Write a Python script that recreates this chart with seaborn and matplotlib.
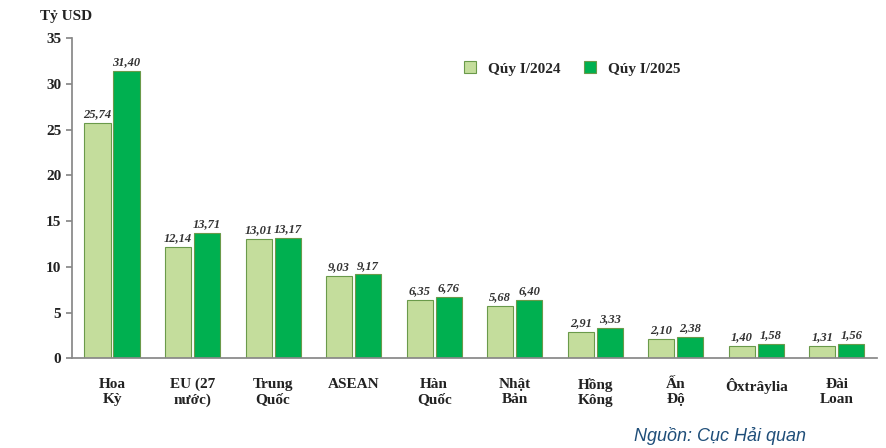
import matplotlib
matplotlib.use("Agg")
import matplotlib.pyplot as plt
import seaborn as sns
import pandas as pd

categories = ["Hoa\nKỳ", "EU (27\nnước)", "Trung\nQuốc", "ASEAN", "Hàn\nQuốc",
              "Nhật\nBản", "Hồng\nKông", "Ấn\nĐộ", "Ôxtrâylia", "Đài\nLoan"]
q2024 = [25.74, 12.14, 13.01, 9.03, 6.35, 5.68, 2.91, 2.10, 1.40, 1.31]
q2025 = [31.40, 13.71, 13.17, 9.17, 6.76, 6.40, 3.33, 2.38, 1.58, 1.56]
series = ["Qúy I/2024", "Qúy I/2025"]

df = pd.DataFrame({
    "cat": categories * 2,
    "val": q2024 + q2025,
    "ser": [series[0]] * len(categories) + [series[1]] * len(categories),
})

sns.set_theme(style="white")
plt.rcParams['font.family'] = ['Liberation Serif', 'DejaVu Serif']

fig = plt.figure(figsize=(8.86, 4.48), dpi=100)
ax = fig.add_axes([0.081, 0.2, 0.909, 0.715])
palette = {series[0]: "#c4dd9c", series[1]: "#00b050"}
sns.barplot(data=df, x="cat", y="val", hue="ser", palette=palette, ax=ax,
            width=0.72, gap=0.1, edgecolor="#6a9a4a", linewidth=0.8, saturation=1)

for cont in ax.containers:
    ax.bar_label(cont, labels=[f"{v:.2f}".replace(".", ",") for v in cont.datavalues],
                 padding=2, fontsize=9, fontweight="bold", style="italic", color="#333333")

ax.set_ylim(0, 35)
ax.set_yticks(range(0, 36, 5))
ax.set_xlim(-0.5, len(categories) - 0.5)
ax.set_xlabel("")
ax.set_ylabel("")
for lab in ax.get_yticklabels() + ax.get_xticklabels():
    lab.set_fontweight("bold")
    lab.set_fontsize(11)
    lab.set_color("#222222")
ax.tick_params(axis="y", left=True, length=4, color="#888888")
ax.tick_params(axis="x", bottom=False, pad=8)
for s in ["top", "right"]:
    ax.spines[s].set_visible(False)
for s in ["left", "bottom"]:
    ax.spines[s].set_color("#888888")

leg = ax.legend(loc="upper left", bbox_to_anchor=(0.47, 0.97), ncol=2, frameon=False,
                prop={"weight": "bold", "size": 11}, handlelength=0.8, handleheight=0.8,
                columnspacing=1.5)

fig.text(0.045, 0.955, "Tỷ USD", fontsize=11, fontweight="bold", color="#222222")
fig.text(0.91, 0.015, "Nguồn: Cục Hải quan", fontsize=13, style="italic", color="#1f4e79",
         ha="right", family=["Liberation Sans", "DejaVu Sans"])

fig.savefig("out.png", dpi=100)
